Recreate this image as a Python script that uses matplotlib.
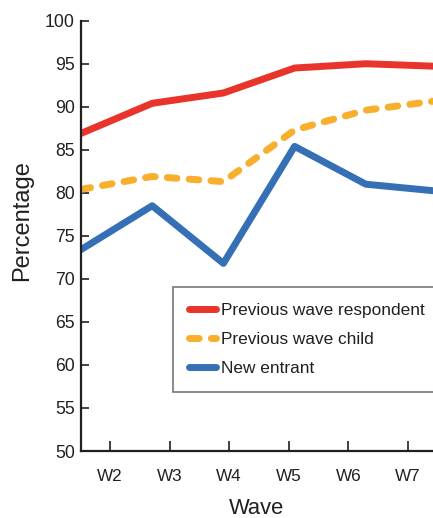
import matplotlib
matplotlib.use('Agg')
import matplotlib.pyplot as plt

plt.rcParams['font.family'] = ['Liberation Sans', 'DejaVu Sans']

# 数据
waves = ['W2', 'W3', 'W4', 'W5', 'W6', 'W7']
points = [0, 1, 2, 3, 4, 5]
prev_resp = [86.9, 90.4, 91.6, 94.5, 95.0, 94.7]
prev_child = [80.4, 81.9, 81.3, 87.3, 89.6, 90.7]
new_entrant = [73.4, 78.5, 71.8, 85.4, 81.0, 80.2]

c_red = '#E8342A'
c_orange = '#F8AF2E'
c_blue = '#3570B6'
c_axis = '#231F20'

fig = plt.figure(figsize=(4.33, 5.18), dpi=100)
ax = fig.add_axes([81 / 433, 67 / 518, 352 / 433, 430.3 / 518])

lw = 5.0
ax.plot(points, prev_resp, color=c_red, lw=lw, solid_capstyle='round',
        label='Previous wave respondent')
ax.plot(points, prev_child, color=c_orange, lw=lw, ls=(0, (1.4, 1.75)),
        dash_capstyle='round', label='Previous wave child')
ax.plot(points, new_entrant, color=c_blue, lw=lw, solid_capstyle='round',
        label='New entrant')

ax.set_xlim(0, 352 / 71.2)
ax.set_ylim(50, 100)

# 刻度位置（与数据点不对齐）
tick_pos = [(110 - 81 + 59.6 * i) / 71.2 for i in range(len(waves))]
ax.set_xticks(tick_pos)
ax.set_xticklabels(waves)
ax.set_yticks(range(50, 101, 5))

for s in ['top', 'right']:
    ax.spines[s].set_visible(False)
for s in ['left', 'bottom']:
    ax.spines[s].set_linewidth(1.6)
    ax.spines[s].set_color(c_axis)

ax.tick_params(axis='x', direction='in', length=7.5, width=1.2, color=c_axis,
               pad=13, labelsize=12.3, labelcolor=c_axis)
ax.tick_params(axis='y', direction='in', length=6, width=1.2, color=c_axis,
               pad=4.5, labelsize=12.7, labelcolor=c_axis)

ax.set_xlabel('Wave', fontsize=15.8, color=c_axis)
ax.xaxis.set_label_coords(0.5, -0.11)
ax.set_ylabel('Percentage', fontsize=17, color=c_axis)
ax.yaxis.set_label_coords(-0.135, 0.535)

leg = ax.legend(loc='upper left', bbox_to_anchor=(173 / 433, 1 - 286.7 / 518),
                bbox_transform=fig.transFigure, fontsize=12.4, frameon=True,
                fancybox=False, edgecolor='#555555', handlelength=1.57,
                handletextpad=0.3, labelspacing=0.81, borderpad=0.93,
                borderaxespad=0)
leg.get_frame().set_linewidth(1.2)
for t in leg.get_texts():
    t.set_color(c_axis)

fig.savefig('out.png', dpi=100)
